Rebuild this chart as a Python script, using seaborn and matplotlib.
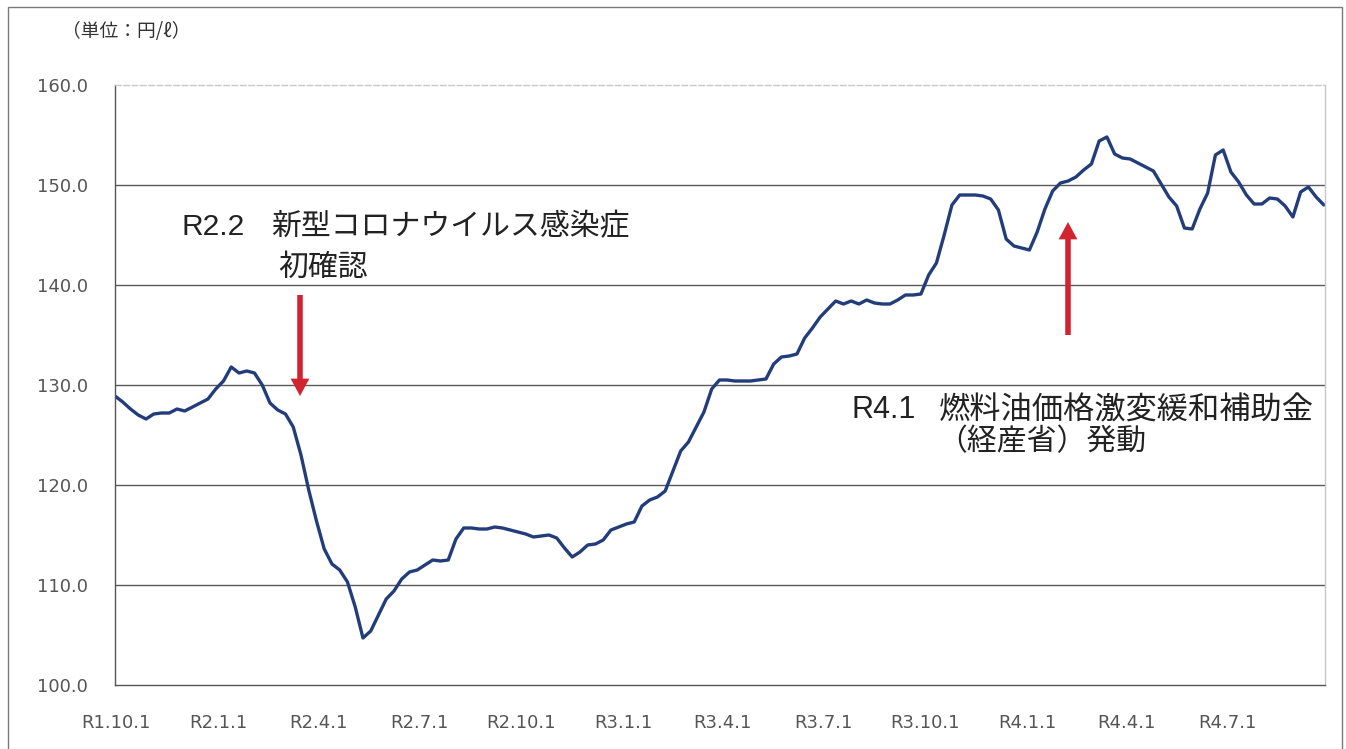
import matplotlib
matplotlib.use("Agg")
import matplotlib.pyplot as plt
import seaborn as sns
import pandas as pd
import numpy as np
from matplotlib.patches import Rectangle

# ---- data (weekly retail price, yen per litre) ----
start_date = "2019-09-30"
prices = [
    128.9, 128.3, 127.6, 127.0, 126.6, 127.1, 127.2, 127.2, 127.6, 127.4,
    127.8, 128.2, 128.6, 129.6, 130.4, 131.8, 131.2, 131.4, 131.2, 130.0,
    128.2, 127.5, 127.1, 125.8, 123.0, 119.5, 116.4, 113.6, 112.1, 111.5,
    110.3, 107.8, 104.7, 105.4, 107.0, 108.6, 109.4, 110.6, 111.3, 111.5,
    112.0, 112.5, 112.4, 112.5, 114.6, 115.7, 115.7, 115.6, 115.6, 115.8,
    115.7, 115.5, 115.3, 115.1, 114.8, 114.9, 115.0, 114.7, 113.7, 112.8,
    113.3, 114.0, 114.1, 114.5, 115.5, 115.8, 116.1, 116.3, 117.9, 118.5,
    118.8, 119.4, 121.4, 123.4, 124.3, 125.8, 127.3, 129.6, 130.5, 130.5,
    130.4, 130.4, 130.4, 130.5, 130.6, 132.1, 132.8, 132.9, 133.1, 134.7,
    135.7, 136.8, 137.6, 138.4, 138.1, 138.4, 138.1, 138.5, 138.2, 138.1,
    138.1, 138.5, 139.0, 139.0, 139.1, 141.0, 142.2, 145.0, 148.0, 149.0,
    149.0, 149.0, 148.9, 148.6, 147.5, 144.6, 143.9, 143.7, 143.5, 145.3,
    147.6, 149.4, 150.2, 150.4, 150.8, 151.5, 152.1, 154.4, 154.8, 153.1,
    152.7, 152.6, 152.2, 151.8, 151.4, 150.1, 148.8, 147.9, 145.7, 145.6,
    147.6, 149.2, 153.0, 153.5, 151.3, 150.3, 149.0, 148.1, 148.1, 148.7,
    148.6, 147.9, 146.8, 149.3, 149.8, 148.8, 148.0,
]
tick_dates = ["2019-10-01", "2020-01-01", "2020-04-01", "2020-07-01",
              "2020-10-01", "2021-01-01", "2021-04-01", "2021-07-01",
              "2021-10-01", "2022-01-01", "2022-04-01", "2022-07-01"]
tick_labels = ["R1.10.1", "R2.1.1", "R2.4.1", "R2.7.1", "R2.10.1", "R3.1.1",
               "R3.4.1", "R3.7.1", "R3.10.1", "R4.1.1", "R4.4.1", "R4.7.1"]
y_ticks = [100, 110, 120, 130, 140, 150, 160]
unit_label = "（単位：円/ℓ）"
note1_date = "R2.2"
note1_line1 = "新型コロナウイルス感染症"
note1_line2 = "初確認"
note2_date = "R4.1"
note2_line1 = "燃料油価格激変緩和補助金"
note2_line2 = "（経産省）発動"

dates = pd.date_range(start_date, periods=len(prices), freq="7D")
df = pd.DataFrame({"date": dates, "price": prices})

sns.set_style("white")
plt.rcParams["font.family"] = ["DejaVu Sans", "Noto Sans CJK JP"]

W, H = 1346, 749
fig = plt.figure(figsize=(W / 100, H / 100), dpi=100)
fig.patch.set_facecolor("white")


def fx(px):
    return px / W


def fy(py):
    return 1 - py / H


ax = fig.add_axes([fx(115), fy(685), (1325 - 115) / W, (685 - 85) / H])

sns.lineplot(data=df, x="date", y="price", ax=ax, color="#233d7b",
             linewidth=2.4, legend=False)

ax.set_xlim(pd.Timestamp("2019-09-30"), pd.Timestamp("2022-09-27"))
ax.set_ylim(100, 160)
ax.set_xlabel("")
ax.set_ylabel("")

ax.set_yticks(y_ticks)
ax.set_yticklabels([f"{v:.1f}" for v in y_ticks])
ax.set_xticks(pd.to_datetime(tick_dates))
ax.set_xticklabels(tick_labels)

ax.tick_params(axis="y", length=0, pad=19.5, labelsize=13, labelcolor="#555555")
ax.tick_params(axis="x", direction="in", length=6, width=1, color="#555555",
               pad=21, labelsize=13, labelcolor="#555555")

ax.yaxis.grid(True, color="#5a5a5a", linewidth=1.0)
ax.xaxis.grid(False)
glines = ax.get_ygridlines()
glines[0].set_visible(False)
glines[-1].set_visible(False)

for side in ["left", "bottom"]:
    ax.spines[side].set_color("#555555")
    ax.spines[side].set_linewidth(1.0)
ax.spines["top"].set_color("#c8c8c8")
ax.spines["top"].set_linestyle((0, (4, 2)))
ax.spines["top"].set_linewidth(1.0)
ax.spines["right"].set_color("#c8c8c8")
ax.spines["right"].set_linewidth(1.0)

# outer frame
fig.patches.append(Rectangle((fx(8), fy(760)), fx(1342) - fx(8), fy(7) - fy(760),
                             transform=fig.transFigure, fill=False,
                             edgecolor="#7a7a7a", linewidth=1.0))

cjk = ["Noto Sans CJK JP", "DejaVu Sans"]
latin = ["Liberation Sans", "DejaVu Sans"]
fig.text(fx(62), fy(31), unit_label, family=cjk, fontsize=13.5,
         color="#333333", ha="left", va="center")

fig.text(fx(182), fy(227), note1_date, family=latin, fontsize=21.5,
         color="#222222", ha="left", va="center")
fig.text(fx(271), fy(227), note1_line1, family=cjk, fontsize=21.5,
         color="#222222", ha="left", va="center")
fig.text(fx(278), fy(267), note1_line2, family=cjk, fontsize=21.5,
         color="#222222", ha="left", va="center")
fig.text(fx(851), fy(410), note2_date, family=latin, fontsize=22,
         color="#222222", ha="left", va="center")
fig.text(fx(939), fy(410), note2_line1, family=cjk, fontsize=22.5,
         color="#222222", ha="left", va="center")
fig.text(fx(937), fy(442), note2_line2, family=cjk, fontsize=21.5,
         color="#222222", ha="left", va="center")

red = "#d1242f"
arrow_kw = dict(width=4.0, headwidth=13.5, headlength=12.5, shrink=0.0,
                facecolor=red, edgecolor="none")
fig.add_artist(plt.Annotation("", xy=(fx(300), fy(396)), xytext=(fx(300), fy(295)),
                              xycoords="figure fraction", textcoords="figure fraction",
                              arrowprops=arrow_kw))
fig.add_artist(plt.Annotation("", xy=(fx(1068), fy(222)), xytext=(fx(1068), fy(335)),
                              xycoords="figure fraction", textcoords="figure fraction",
                              arrowprops=arrow_kw))

fig.savefig("out.png", dpi=100, facecolor="white")
